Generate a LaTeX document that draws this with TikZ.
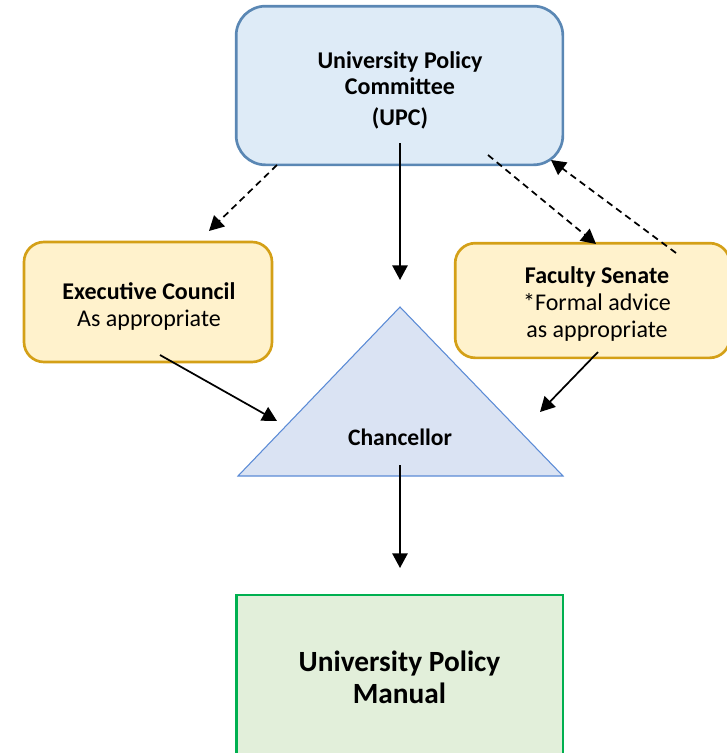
\documentclass[tikz,border=0pt]{standalone}
\usepackage{fontspec}
\setmainfont{Carlito}
\usetikzlibrary{arrows.meta}
\usetikzlibrary{shapes}

\definecolor{upcfill}{HTML}{DEEBF7}
\definecolor{upcline}{HTML}{5A87B4}
\definecolor{advfill}{HTML}{FFF2CC}
\definecolor{advline}{HTML}{D4A017}
\definecolor{chanfill}{HTML}{DAE3F3}
\definecolor{chanline}{HTML}{5B8BD6}
\definecolor{manfill}{HTML}{E2EFDA}
\definecolor{manline}{HTML}{00B050}

\tikzset{
    upcbox/.style={rectangle, rounded corners=22pt, draw=upcline, fill=upcfill, line width=2pt,
        minimum width=245pt, minimum height=119pt},
    upctext/.style={align=center, font=\fontsize{18}{19.5}\selectfont\bfseries},
    advbox/.style={rectangle, rounded corners=15pt, draw=advline, fill=advfill, line width=2pt},
    advtext/.style={align=center, font=\fontsize{18}{20.5}\selectfont},
    manbox/.style={rectangle, draw=manline, fill=manfill, line width=2pt,
        minimum width=245pt, minimum height=123pt, align=center, font=\fontsize{22}{24}\selectfont\bfseries},
    link/.style={-{Triangle[length=11pt, width=11.5pt]}, line width=1.3pt},
    dlink/.style={link, dash pattern=on 5pt off 3.5pt}
}

\begin{document}
\begin{tikzpicture}[x=0.75pt, y=-0.75pt]
        \clip (0, 0) rectangle (727, 753);
        \node[upcbox] (upc) at (399.5, 85.5) {};
        \node[upctext] (upc-text) at (400, 90.5) {University Policy\\Committee\\[3.5pt](UPC)};
        \node[advbox, minimum width=186pt, minimum height=90pt] (exec) at (148, 302) {};
        \node[advtext] (exec-text) at (149, 306.5) {\textbf{Executive Council}\\As appropriate};
        \node[advbox, minimum width=206pt, minimum height=86pt] (senate) at (592.5, 300.5) {};
        \node[advtext] (senate-text) at (597, 304) {\textbf{Faculty Senate}\\*Formal advice\\as appropriate};
        \draw[draw=chanline, fill=chanfill, line width=.8pt] (400, 307) -- (563, 476) -- (238, 476) -- cycle;
        \node[font=\fontsize{17.7}{18}\selectfont\bfseries] (chancellor) at (400, 437) {Chancellor};
        \node[manbox] (manual) at (399.5, 677) {University Policy\\Manual};

        % ends of the connectors
        \coordinate (upc-down) at (400, 143);
        \coordinate (upc-left) at (277, 165);
        \coordinate (upc-right) at (488, 155);
        \coordinate (upc-corner) at (551, 160);
        \coordinate (exec-top) at (209, 231);
        \coordinate (exec-out) at (160, 355);
        \coordinate (senate-top) at (596, 244);
        \coordinate (senate-back) at (676, 253);
        \coordinate (senate-out) at (598, 352);
        \coordinate (chan-top) at (400, 280);
        \coordinate (chan-left) at (277, 421);
        \coordinate (chan-right) at (540, 412);
        \coordinate (chan-down) at (400, 465);
        \coordinate (manual-top) at (400, 568);

        \draw[link] (upc-down) -- (chan-top);
        \draw[dlink] (upc-left) -- (exec-top);
        \draw[dlink] (upc-right) -- (senate-top);
        \draw[dlink] (senate-back) -- (upc-corner);
        \draw[link] (exec-out) -- (chan-left);
        \draw[link] (senate-out) -- (chan-right);
        \draw[link] (chan-down) -- (manual-top);

    \end{tikzpicture}
\end{document}
